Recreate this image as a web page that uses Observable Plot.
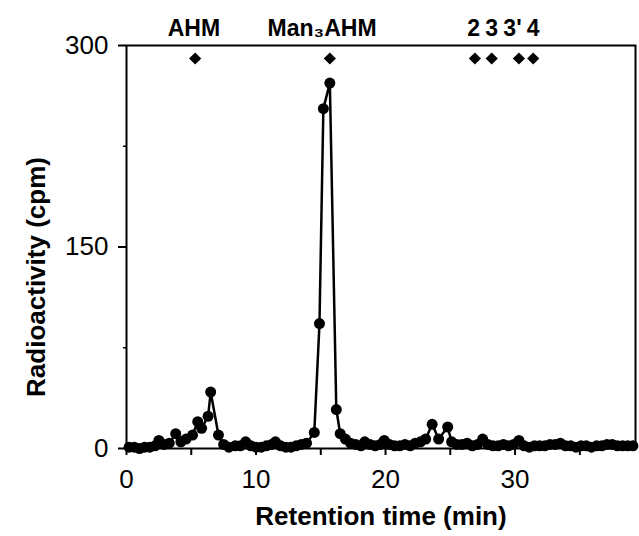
<!DOCTYPE html>
<html>
<head>
<meta charset="utf-8">
<script src="https://cdn.jsdelivr.net/npm/d3@7"></script>
<script src="https://cdn.jsdelivr.net/npm/@observablehq/plot@0.6"></script>
<style>
  html, body { margin: 0; padding: 0; background: #fff; }
  svg { display: block; }
</style>
</head>
<body>
<div id="chart"></div>
<script>
// Retention time (min) of each fraction
const times = [0.2,0.6,1.0,1.4,1.8,2.2,2.5,2.9,3.3,3.8,4.2,4.6,5.1,5.5,5.8,6.3,6.5,7.1,7.5,7.9,8.4,8.8,9.2,9.6,10.0,10.4,10.8,11.2,11.5,11.9,12.3,12.7,13.1,13.5,13.9,14.5,14.9,15.2,15.7,16.2,16.5,16.9,17.3,17.7,18.1,18.4,18.8,19.2,19.6,19.9,20.3,20.7,21.1,21.5,21.9,22.3,22.7,23.1,23.6,24.1,24.8,25.1,25.5,25.9,26.3,26.7,27.1,27.5,27.9,28.3,28.7,29.1,29.5,29.9,30.3,30.7,31.1,31.5,31.9,32.3,32.7,33.1,33.5,33.9,34.3,34.7,35.1,35.5,35.9,36.3,36.7,37.1,37.5,37.9,38.3,38.7,39.1];
// Radioactivity (cpm)
const counts = [1,1,0,1,1,2,6,3,4,11,5,7,10,20,15,24,42,10,3,1,2,2,5,2,1,1,2,3,5,2,1,1,2,3,4,12,93,253,272,29,11,7,4,3,2,5,3,2,3,6,3,2,2,3,2,4,5,7,18,7,16,5,3,3,4,2,3,7,3,2,2,3,2,3,6,2,1,2,2,2,3,3,4,2,2,1,2,2,1,2,2,3,3,2,2,2,2];

// Standards (diamonds) and their labels
const standardTimes = [5.3, 15.7, 26.9, 28.2, 30.3, 31.4];
const labelTexts = ["AHM", "Man\u2083AHM", "2", "3", "3'", "4"];
const labelTimes = [5.2, 15.1, 26.8, 28.2, 29.8, 31.4];

const yTicks = [0, 150, 300];
const yMinorTicks = [75, 225];
const xTicks = [0, 5, 10, 15, 20, 25, 30, 35];
const xTickLabels = {0: "0", 10: "10", 20: "20", 30: "30"};

const xLabel = "Retention time (min)";
const yLabel = "Radioactivity (cpm)";

const data = times.map((t, i) => ({t, c: counts[i]}));
const labels = labelTexts.map((s, i) => ({s, t: labelTimes[i]}));
const standards = standardTimes.map(t => ({t}));

const font = "'Liberation Sans', Arial, Helvetica, sans-serif";

const chart = Plot.plot({
  width: 639,
  height: 536,
  marginLeft: 126,
  marginRight: 4,
  marginTop: 45,
  marginBottom: 88,
  style: {fontFamily: font, background: "#fff", color: "#000"},
  x: {domain: [0, 39.3]},
  y: {domain: [0, 300]},
  marks: [
    Plot.frame({stroke: "#000", strokeWidth: 2}),
    Plot.axisY({ticks: yTicks, tickSize: 8, tickPadding: 10, fontSize: 26, label: null, strokeWidth: 2}),
    Plot.axisY({ticks: yMinorTicks, tickSize: 3, tickFormat: () => "", label: null, strokeWidth: 1.5}),
    Plot.axisX({ticks: xTicks, tickSize: 7, tickPadding: 14, fontSize: 26, label: null, strokeWidth: 2,
      tickFormat: d => xTickLabels[d] ?? ""}),
    Plot.line(data, {x: "t", y: "c", stroke: "#000", strokeWidth: 2.5}),
    Plot.dot(data, {x: "t", y: "c", r: 5.5, fill: "#000", stroke: null}),
    Plot.dot(standards, {x: "t", frameAnchor: "top", dy: 13, symbol: "diamond2", r: 5.5, fill: "#000", stroke: null}),
    Plot.text(labels, {x: "t", text: "s", frameAnchor: "top", dy: -26, fontSize: 23, fontWeight: "bold", fill: "#000"}),
    Plot.text([xLabel], {text: d => d, frameAnchor: "bottom", dy: 76, fontSize: 26, fontWeight: "bold", fill: "#000"}),
    Plot.text([yLabel], {text: d => d, frameAnchor: "left", textAnchor: "middle", dx: -90, dy: 30, rotate: -90, fontSize: 26, fontWeight: "bold", fill: "#000"})
  ]
});
document.getElementById("chart").appendChild(chart);
</script>
</body>
</html>
